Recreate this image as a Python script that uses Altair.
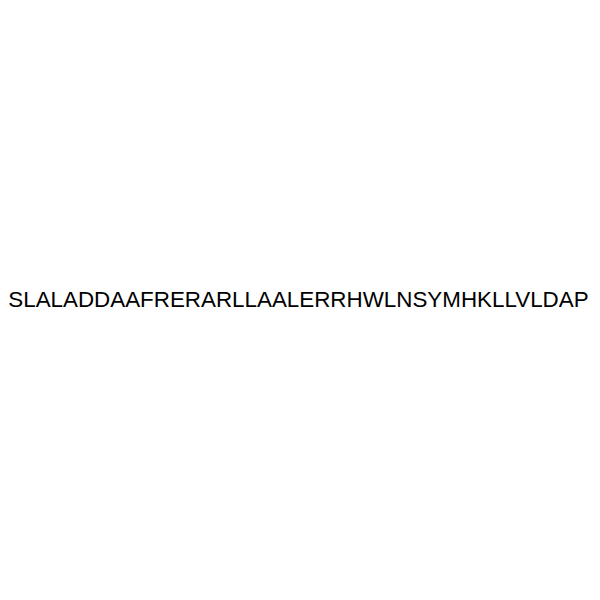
import altair as alt
import pandas as pd

labels = ["SLALADDAAFRERARLLAALERRHWLNSYMHKLLVLDAP"]

df = pd.DataFrame({"label": labels})

chart = (
    alt.Chart(df)
    .mark_text(
        font="Liberation Sans",
        fontSize=22.7,
        color="#000000",
        align="left",
        baseline="alphabetic",
    )
    .encode(
        x=alt.value(0.3),
        y=alt.value(299.5),
        text="label:N",
    )
    .properties(
        width=592,
        height=570,
        autosize=alt.AutoSizeParams(type="none"),
        padding=0,
        background="#ffffff",
    )
    .configure_view(stroke=None)
)

chart.save("out.html", embed_options={"renderer": "svg", "actions": False})
